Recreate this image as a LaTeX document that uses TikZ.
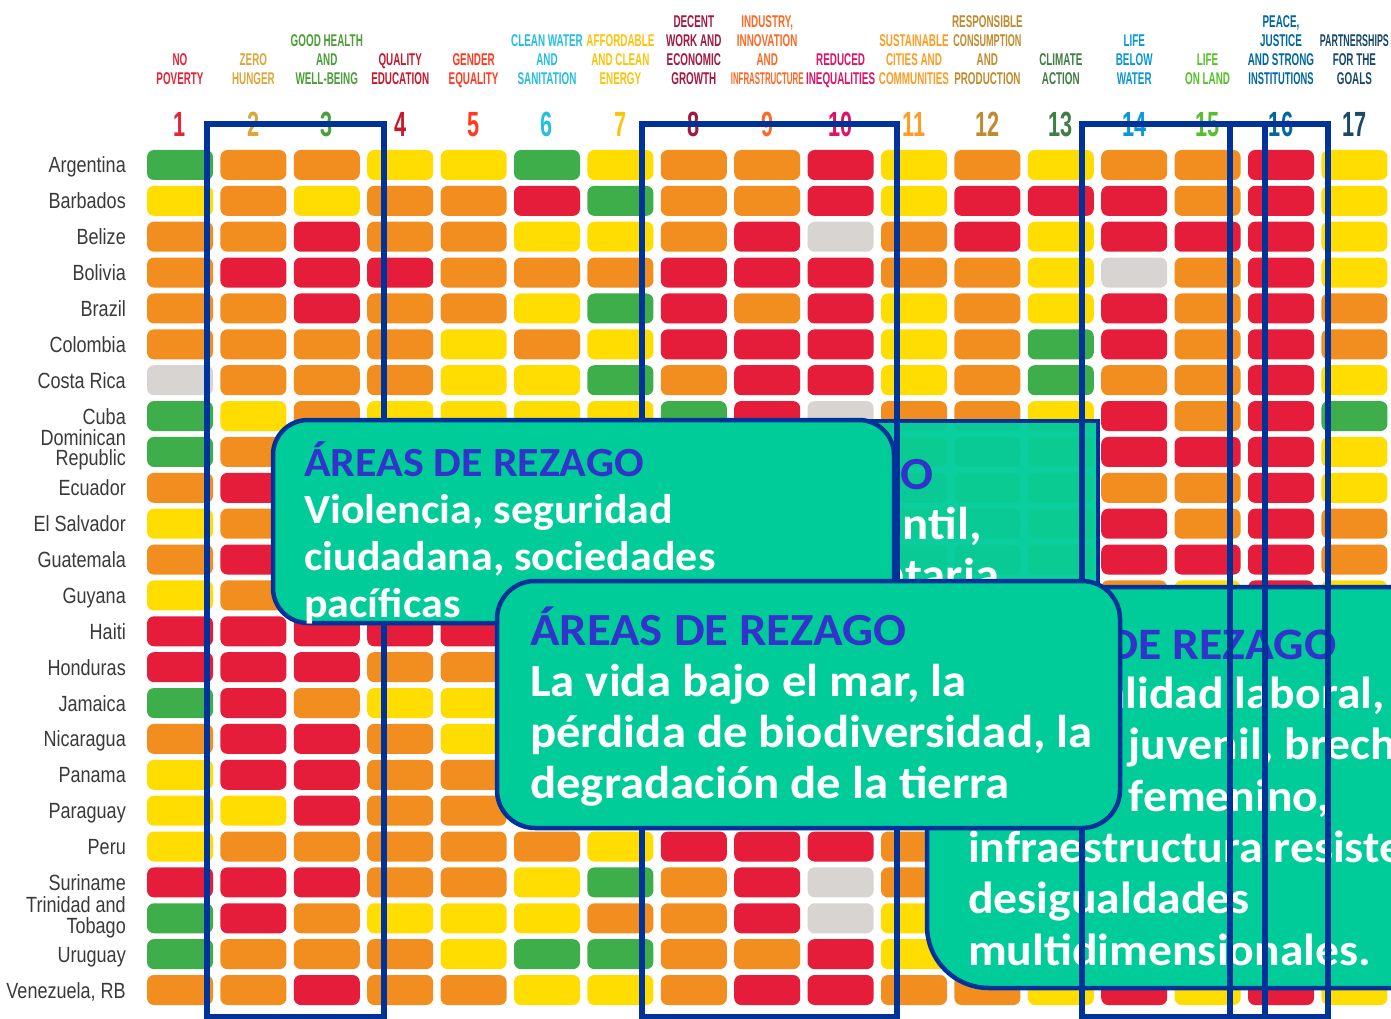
\documentclass[tikz,border=0pt]{standalone}
\usepackage{fontspec}
\newfontfamily\calfont{Carlito}[FakeStretch=1.06]
\newfontfamily\hdrfont{Liberation Sans}[FakeStretch=0.58]
\newfontfamily\numfont{Liberation Sans}[FakeStretch=0.62]
\newfontfamily\ctryfont{Liberation Sans}[FakeStretch=0.82]
\definecolor{cG}{HTML}{3DAE49}
\definecolor{cO}{HTML}{F28E1F}
\definecolor{cY}{HTML}{FFDD00}
\definecolor{cR}{HTML}{E51D3A}
\definecolor{cN}{HTML}{D8D4D1}
\definecolor{boxfill}{HTML}{00CC99}
\definecolor{navy}{HTML}{003399}
\definecolor{headblue}{HTML}{3333CC}
\definecolor{lbl}{HTML}{3A3A3A}
\definecolor{s1}{HTML}{E5243B}
\definecolor{s2}{HTML}{DDA63A}
\definecolor{s3}{HTML}{4C9F38}
\definecolor{s4}{HTML}{C5192D}
\definecolor{s5}{HTML}{FF3A21}
\definecolor{s6}{HTML}{26BDE2}
\definecolor{s7}{HTML}{FCC30B}
\definecolor{s8}{HTML}{A21942}
\definecolor{s9}{HTML}{FD6925}
\definecolor{s10}{HTML}{DD1367}
\definecolor{s11}{HTML}{FD9D24}
\definecolor{s12}{HTML}{BF8B2E}
\definecolor{s13}{HTML}{3F7E44}
\definecolor{s14}{HTML}{0A97D9}
\definecolor{s15}{HTML}{56C02B}
\definecolor{s16}{HTML}{00689D}
\definecolor{s17}{HTML}{19486A}
\newcommand\hd[3]{\node[hdr, text=s#1] (h-#1-#2) at ({180+(#1-1)*73.4},{85-(#2-1)*19.3}) {#3};}
\begin{document}
\begin{tikzpicture}[x=1pt,y=-1pt,
  cell/.style={rectangle, rounded corners=7pt, minimum width=66pt, minimum height=30pt, inner sep=0pt},
  hdr/.style={anchor=base, inner sep=0pt, font=\hdrfont\bfseries\fontsize{17}{17}\selectfont},
  num/.style={anchor=base, inner sep=0pt, font=\numfont\bfseries\fontsize{35}{35}\selectfont},
  ctry/.style={anchor=base east, inner sep=0pt, text=lbl, font=\ctryfont\fontsize{22}{22}\selectfont},
  callout/.style={draw=navy, line width=4.5pt, fill=boxfill},
  bluebox/.style={draw=navy, line width=6pt},
  headA/.style={anchor=base west, inner sep=0pt, text=headblue, font=\calfont\bfseries\fontsize{41.5}{41.5}\selectfont},
  bodyA/.style={anchor=base west, inner sep=0pt, text=white, font=\calfont\bfseries\fontsize{41.5}{41.5}\selectfont},
  headB/.style={anchor=base west, inner sep=0pt, text=headblue, font=\calfont\bfseries\fontsize{46}{46}\selectfont},
  bodyB/.style={anchor=base west, inner sep=0pt, text=white, font=\calfont\bfseries\fontsize{46}{46}\selectfont},
  headC/.style={anchor=base west, inner sep=0pt, text=headblue, font=\calfont\bfseries\fontsize{45}{45}\selectfont},
  bodyC/.style={anchor=base west, inner sep=0pt, text=white, font=\calfont\bfseries\fontsize{45}{45}\selectfont}]
\useasboundingbox (0,0) rectangle (1391,1019);
\clip (0,0) rectangle (1391,1019);
\fill[white] (0,0) rectangle (1391,1019);

% headers
\hd{1}{1}{POVERTY}\hd{1}{2}{NO}
\hd{2}{1}{HUNGER}\hd{2}{2}{ZERO}
\hd{3}{1}{WELL-BEING}\hd{3}{2}{AND}\hd{3}{3}{GOOD HEALTH}
\hd{4}{1}{EDUCATION}\hd{4}{2}{QUALITY}
\hd{5}{1}{EQUALITY}\hd{5}{2}{GENDER}
\hd{6}{1}{SANITATION}\hd{6}{2}{AND}\hd{6}{3}{CLEAN WATER}
\hd{7}{1}{ENERGY}\hd{7}{2}{AND CLEAN}\hd{7}{3}{AFFORDABLE}
\hd{8}{1}{GROWTH}\hd{8}{2}{ECONOMIC}\hd{8}{3}{WORK AND}\hd{8}{4}{DECENT}
\hd{9}{1}{\scalebox{0.8}[1]{INFRASTRUCTURE}}\hd{9}{2}{AND}\hd{9}{3}{INNOVATION}\hd{9}{4}{INDUSTRY,}
\hd{10}{1}{INEQUALITIES}\hd{10}{2}{REDUCED}
\hd{11}{1}{COMMUNITIES}\hd{11}{2}{CITIES AND}\hd{11}{3}{SUSTAINABLE}
\hd{12}{1}{PRODUCTION}\hd{12}{2}{AND}\hd{12}{3}{\scalebox{0.92}[1]{CONSUMPTION}}\hd{12}{4}{RESPONSIBLE}
\hd{13}{1}{ACTION}\hd{13}{2}{CLIMATE}
\hd{14}{1}{WATER}\hd{14}{2}{BELOW}\hd{14}{3}{LIFE}
\hd{15}{1}{ON LAND}\hd{15}{2}{LIFE}
\hd{16}{1}{\scalebox{0.95}[1]{INSTITUTIONS}}\hd{16}{2}{AND STRONG}\hd{16}{3}{JUSTICE}\hd{16}{4}{PEACE,}
\hd{17}{1}{GOALS}\hd{17}{2}{FOR THE}\hd{17}{3}{\scalebox{0.9}[1]{PARTNERSHIPS}}

% numbers
\foreach \j in {1,...,17}
  \node[num, text=s\j] (n-\j) at ({180+(\j-1)*73.4},137) {\j};

% country labels
\foreach \nm/\i in {Argentina/1, Barbados/2, Belize/3, Bolivia/4, Brazil/5, Colombia/6, Costa Rica/7, Cuba/8, Ecuador/10, El Salvador/11, Guatemala/12, Guyana/13, Haiti/14, Honduras/15, Jamaica/16, Nicaragua/17, Panama/18, Paraguay/19, Peru/20, Suriname/21, Uruguay/23}
  \node[ctry] (lab-\i) at (126,{173+(\i-1)*35.87}) {\nm};
\node[ctry] (lab-9a) at (126,445) {Dominican};
\node[ctry] (lab-9b) at (126,465) {Republic};
\node[ctry] (lab-22a) at (126,912) {Trinidad and};
\node[ctry] (lab-22b) at (126,933) {Tobago};
\node[ctry] (lab-24) at (126,998) {Venezuela, RB};

% grid
\foreach \rowdata [count=\i] in {
 {G,O,O,Y,Y,G,Y,O,O,R,Y,O,Y,O,O,R,Y},
 {Y,O,Y,O,O,R,G,O,O,R,Y,R,R,R,O,R,Y},
 {O,O,R,O,O,Y,Y,O,R,N,O,R,Y,R,R,R,Y},
 {O,R,R,R,O,O,O,R,R,R,O,O,Y,N,O,R,Y},
 {O,O,R,O,O,Y,G,R,O,R,Y,O,Y,R,O,R,O},
 {O,O,O,O,Y,O,Y,R,R,R,Y,O,G,R,O,R,O},
 {N,O,O,O,Y,Y,G,O,R,R,Y,O,G,O,O,R,Y},
 {G,Y,O,Y,Y,Y,Y,G,R,N,O,O,Y,R,O,R,G},
 {G,O,O,Y,O,Y,G,O,R,O,Y,O,Y,R,R,R,Y},
 {O,R,O,O,Y,O,Y,O,R,O,O,Y,Y,O,O,R,Y},
 {Y,O,O,O,O,Y,Y,O,O,R,Y,O,Y,R,O,R,O},
 {O,R,R,O,O,O,Y,R,O,R,O,O,Y,R,R,R,O},
 {Y,O,Y,O,Y,O,O,O,O,O,O,O,Y,O,Y,R,Y},
 {R,R,R,R,R,O,O,R,R,O,O,O,Y,R,O,R,O},
 {R,R,R,O,O,O,Y,R,R,R,O,O,Y,R,O,R,O},
 {G,R,O,Y,Y,O,Y,O,R,R,Y,O,Y,R,O,R,Y},
 {O,R,R,O,Y,O,Y,R,R,R,O,O,Y,R,O,R,O},
 {Y,R,R,O,O,Y,G,O,R,R,Y,O,Y,R,O,R,Y},
 {Y,Y,R,O,O,O,Y,O,R,R,O,O,Y,N,O,R,Y},
 {Y,O,O,O,O,O,Y,R,R,R,O,O,Y,R,O,R,O},
 {R,R,R,O,O,Y,G,O,R,N,O,O,Y,R,O,R,Y},
 {G,R,O,Y,Y,Y,O,O,R,N,Y,O,Y,R,O,R,Y},
 {G,O,O,O,Y,G,G,O,O,R,Y,O,Y,R,O,R,Y},
 {O,O,R,O,O,Y,Y,O,R,R,O,O,Y,R,Y,R,Y}}
{
  \foreach \c [count=\j] in \rowdata
    \node[cell, fill=c\c] (c-\i-\j) at ({180+(\j-1)*73.4},{165+(\i-1)*35.87}) {};
}

% callout 0 (partly hidden, slightly transparent)
\draw[callout, fill opacity=0.96] (526,421) rectangle (1098,612);
\node[headB] (t0a) at (557,489) {ÁREAS DE REZAGO};
\node[bodyB] (t0b) at (557,539) {Desnutrición infantil,};
\node[bodyB] (t0c) at (557,590) {seguridad alimentaria};

% callout 3 (right, partly hidden)
\draw[callout, rounded corners=62pt] (927,587) rectangle (1460,988);
\node[headC] (t3a) at (968,659) {ÁREAS DE REZAGO};
\node[bodyC] (t3b) at (968,708) {Informalidad laboral,};
\node[bodyC] (t3c) at (968,759) {empleo juvenil, brecha de};
\node[bodyC] (t3d) at (968,811) {empleo femenino,};
\node[bodyC] (t3e) at (968,862) {infraestructura resistente,};
\node[bodyC] (t3f) at (968,913) {desigualdades};
\node[bodyC] (t3g) at (968,965) {multidimensionales.};

% blue frames
\draw[bluebox] (207,124) rectangle (384,1017);
\draw[bluebox] (642,124) rectangle (897,1017);
\draw[bluebox] (1082,124) rectangle (1328,1017);
\draw[bluebox] (1230,124) -- (1230,1017);
\draw[bluebox] (1265,124) -- (1265,1017);

% callout 1
\draw[callout, rounded corners=35pt] (273,420) rectangle (894,623);
\node[headA] (t1a) at (304,476) {ÁREAS DE REZAGO};
\node[bodyA] (t1b) at (304,523) {Violencia, seguridad};
\node[bodyA] (t1c) at (304,570) {ciudadana, sociedades};
\node[bodyA] (t1d) at (304,617) {pacíficas};

% callout 2
\draw[callout, rounded corners=38pt] (497,581) rectangle (1120,828);
\node[headB] (t2a) at (530,645) {ÁREAS DE REZAGO};
\node[bodyB] (t2b) at (530,696) {La vida bajo el mar, la};
\node[bodyB] (t2c) at (530,747) {pérdida de biodiversidad, la};
\node[bodyB] (t2d) at (530,798) {degradación de la tierra};
\end{tikzpicture}
\end{document}
